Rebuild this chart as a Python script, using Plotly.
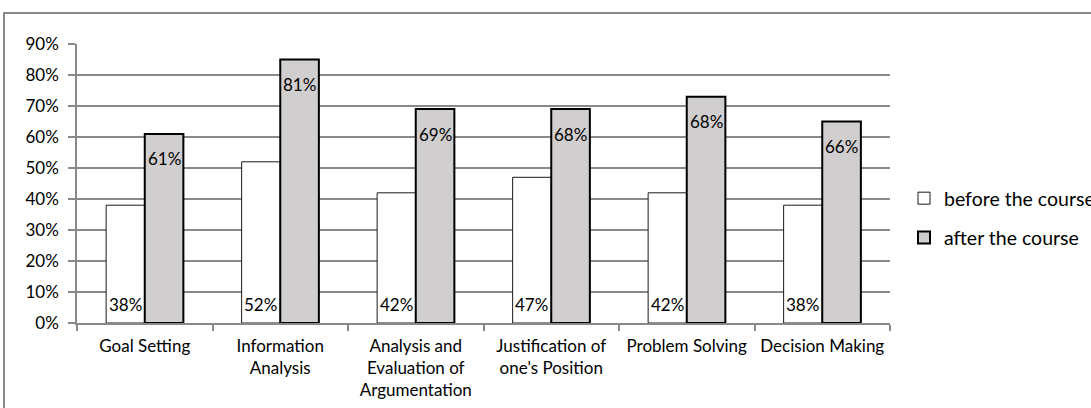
import plotly.graph_objects as go

categories = ["Goal Setting", "Information<br>Analysis", "Analysis and<br>Evaluation of<br>Argumentation",
              "Justification of<br>one's Position", "Problem Solving", "Decision Making"]
before_values = [0.38, 0.52, 0.42, 0.47, 0.42, 0.38]
after_values = [0.61, 0.85, 0.69, 0.69, 0.73, 0.65]
before_labels = ["38%", "52%", "42%", "47%", "42%", "38%"]
after_labels = ["61%", "81%", "69%", "68%", "68%", "66%"]
series_names = ["before the course", "after the course"]
y_ticks = [0, 0.1, 0.2, 0.3, 0.4, 0.5, 0.6, 0.7, 0.8, 0.9]

W, H = 1091, 408
L, R, T, B = 77, 890, 44, 323
FONT = "Lato, Carlito, Calibri, sans-serif"
FS = 17
GRID = "#898989"
BARGAP = 0.43

fig = go.Figure()
fig.add_trace(go.Bar(x=categories, y=before_values, name=series_names[0],
                     marker=dict(color="#ffffff", line=dict(color="#1a1a1a", width=1)),
                     legendgroup="a"))
fig.add_trace(go.Bar(x=categories, y=after_values, name=series_names[1],
                     marker=dict(color="#d0cece", line=dict(color="#000000", width=2)),
                     legendgroup="b"))

half = (1 - BARGAP) / 4
for i, (bv, av, bl, al) in enumerate(zip(before_values, after_values, before_labels, after_labels)):
    fig.add_annotation(x=i - half, y=0, text=bl, showarrow=False, yshift=19,
                       xref="x", yref="y", font=dict(family=FONT, size=FS, color="#000"))
    fig.add_annotation(x=i + half, y=av, text=al, showarrow=False, yshift=-25,
                       xref="x", yref="y", font=dict(family=FONT, size=FS, color="#000"))

pw, ph = R - L, B - T
def px(x):
    return (x - L) / pw
def py(y):
    return (B - y) / ph

fig.add_shape(type="rect", xref="paper", yref="paper",
              x0=px(4), x1=px(1110), y0=py(430), y1=py(13),
              line=dict(color="#8a8a8a", width=2), fillcolor="rgba(0,0,0,0)", layer="below")

fig.update_layout(
    width=W, height=H,
    margin=dict(l=L, r=W - R, t=T, b=H - B, pad=0, autoexpand=False),
    paper_bgcolor="#ffffff", plot_bgcolor="#ffffff",
    barmode="group", bargap=BARGAP, bargroupgap=0,
    font=dict(family=FONT, size=FS, color="#000"),
    showlegend=True,
    legend=dict(x=px(904), xanchor="left", y=py(179), yanchor="top",
                font=dict(family=FONT, size=19.5, color="#000"),
                traceorder="grouped", tracegroupgap=11,
                itemwidth=30, bgcolor="rgba(0,0,0,0)"),
    xaxis=dict(type="category", tickson="boundaries", ticks="outside", ticklen=6,
               tickcolor=GRID, tickwidth=1.5, showline=True, linecolor=GRID, linewidth=1.5,
               showgrid=False, ticklabelstandoff=7, tickangle=0, automargin=False,
               tickfont=dict(family=FONT, size=FS, color="#000")),
    yaxis=dict(range=[0, 0.9], tickvals=y_ticks, tickformat=".0%", showgrid=True,
               gridcolor=GRID, gridwidth=1.5, zeroline=False, showline=True,
               linecolor=GRID, linewidth=1.5, ticks="outside", ticklen=7,
               tickcolor=GRID, tickwidth=1.5, ticklabelstandoff=6, automargin=False,
               tickfont=dict(family=FONT, size=FS, color="#000")),
)

fig.write_html("out.html", config={"displayModeBar": False},
               post_script="document.body.style.margin='0';")
